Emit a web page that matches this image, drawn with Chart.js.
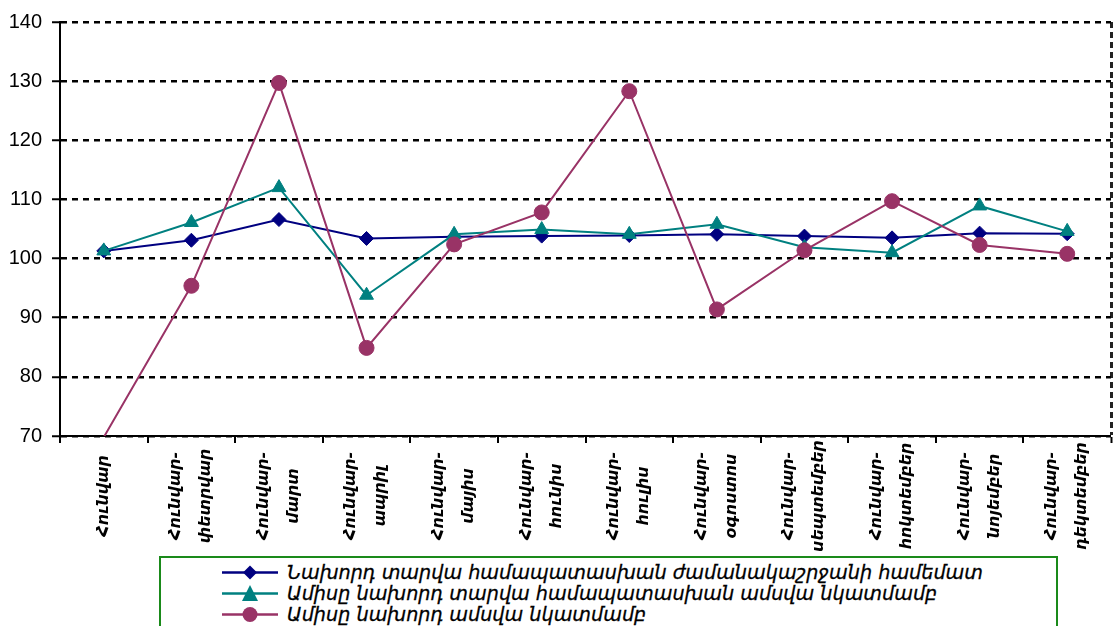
<!DOCTYPE html>
<html><head><meta charset="utf-8">
<script src="https://cdn.jsdelivr.net/npm/chart.js@4"></script>
<style>
html,body{margin:0;padding:0;background:#fff;}
#wrap{position:relative;width:1120px;height:626px;overflow:hidden;background:#fff;}
#c{position:absolute;left:0;top:0;}
#legend{position:absolute;left:159px;top:556px;width:899px;height:90px;border:2px solid #1a8a1a;background:#fff;box-sizing:border-box;}
.row{position:absolute;left:0;height:21px;width:890px;white-space:nowrap;}
.row svg{position:absolute;left:61px;top:0;}
.row span{position:absolute;left:126px;top:-3px;font:italic 20px "DejaVu Sans";line-height:26px;color:#000;transform-origin:left center;-webkit-text-stroke:0.3px #000;}
</style></head>
<body><div id="wrap"><canvas id="c" width="1120" height="626"></canvas><div id="legend"></div></div>
<script>
const categories = ["Հունվար","Հունվար-փետրվար","Հունվար-մարտ","Հունվար-ապրիլ","Հունվար-մայիս","Հունվար-հունիս","Հունվար-հուլիս","Հունվար-օգոստոս","Հունվար-սեպտեմբեր","Հունվար-հոկտեմբեր","Հունվար-նոյեմբեր","Հունվար-դեկտեմբեր"];
const seriesNames = ["Նախորդ տարվա համապատասխան ժամանակաշրջանի համեմատ","Ամիսը նախորդ տարվա համապատասխան ամսվա նկատմամբ","Ամիսը նախորդ ամսվա նկատմամբ"];
const vsPrevYearPeriod = [101.3,103.1,106.6,103.4,103.7,103.8,103.9,104.1,103.8,103.5,104.3,104.2];
const monthVsPrevYearMonth = [101.3,106.1,112.0,93.8,104.1,104.9,104.1,105.8,101.9,101.0,108.9,104.6];
const monthVsPrevMonth = [69.8,95.4,129.7,84.9,102.4,107.8,128.3,91.4,101.4,109.7,102.3,100.8];
const yTicks = [70,80,90,100,110,120,130,140];

const colors = ['#000080','#008080','#993366'];
const styles = ['rectRot','triangle','circle'];

function splitLabel(s){
  const i = s.indexOf('-');
  return i < 0 ? [s] : [s.slice(0,i+1), s.slice(i+1)];
}

const xLabelPlugin = {
  id:'xlabels',
  afterDraw(chart, args, opts){
    const sc = chart.scales.x, ctx = chart.ctx;
    ctx.save();
    ctx.font = opts.font; ctx.fillStyle = opts.color;
    ctx.textAlign = 'center'; ctx.textBaseline = 'middle';
    const refW = ctx.measureText(splitLabel(chart.data.labels[1])[0]).width;
    const stretch = opts.refLength / refW;
    chart.data.labels.forEach((lbl,i)=>{
      const lines = splitLabel(lbl);
      const x = sc.getPixelForTick(i);
      const y = sc.top + opts.centerOffset;
      ctx.save(); ctx.translate(x,y); ctx.rotate(-Math.PI/2); ctx.scale(stretch,1);
      lines.forEach((ln,k)=>ctx.fillText(ln, 0, (k-(lines.length-1)/2)*opts.lineSpacing));
      ctx.restore();
    });
    ctx.restore();
  }
};

const data = [vsPrevYearPeriod, monthVsPrevYearMonth, monthVsPrevMonth];
new Chart(document.getElementById('c'), {
  type:'line',
  data:{
    labels: categories,
    datasets: data.map((d,i)=>({
      label: seriesNames[i], data: d,
      borderColor: colors[i], backgroundColor: colors[i],
      pointBackgroundColor: colors[i], pointBorderColor: colors[i],
      pointStyle: styles[i],
      pointRadius: c => (c.raw < yTicks[0] ? 0 : [7,8,7.5][i]),
      pointHoverRadius: c => (c.raw < yTicks[0] ? 0 : [7,8,7.5][i]),
      pointBorderWidth: 1,
      borderWidth: 2, tension: 0, fill: false,
      order: 3 - i
    }))
  },
  options:{
    responsive:false, animation:false, events:[],
    layout:{padding:{top:22,right:4,left:0,bottom:0}},
    plugins:{
      legend:{display:false}, tooltip:{enabled:false},
      xlabels:{font:'italic bold 15px "DejaVu Sans"', color:'#000', lineSpacing:30, centerOffset:60, refLength:88}
    },
    scales:{
      x:{
        offset:true,
        grid:{offset:true, display:true, drawOnChartArea:true,
          color: c => (c.tick === undefined ? '#222' : 'rgba(0,0,0,0)'),
          lineWidth: c => (c.tick === undefined ? 3 : 0),
          tickColor:'#000', tickLength:7, tickWidth:2, tickBorderDash:[]},
        border:{display:true, color:'#000', width:2, dash:[6,4]},
        ticks:{display:false},
        afterFit(s){ s.height = 190; }
      },
      y:{
        min: yTicks[0], max: yTicks[yTicks.length-1],
        afterBuildTicks(s){ s.ticks = yTicks.map(v=>({value:v})); },
        ticks:{font:{family:'Liberation Sans', size:20}, color:'#000', padding:10},
        grid:{color:'#000', lineWidth:2.5, tickLength:8, tickColor:'#000', tickWidth:2, tickBorderDash:[]},
        border:{display:true, color:'#000', width:2, dash:[6,5]},
        afterFit(s){ s.width = 60; }
      }
    }
  },
  plugins:[xLabelPlugin]
});

// HTML legend
const legend = document.getElementById('legend');
const rowCenters = [14,35,56];
const spans = [];
seriesNames.forEach((name,i)=>{
  const row = document.createElement('div');
  row.className = 'row';
  row.style.top = (rowCenters[i]-10.5)+'px';
  let marker = '';
  const c = colors[i];
  if (i===0) marker = `<polygon points="28,3.5 35,10.5 28,17.5 21,10.5" fill="${c}"/>`;
  if (i===1) marker = `<polygon points="28,2 36,18 20,18" fill="${c}"/>`;
  if (i===2) marker = `<circle cx="28" cy="10.5" r="7.5" fill="${c}"/>`;
  row.innerHTML = `<svg width="56" height="21"><line x1="0" y1="10.5" x2="56" y2="10.5" stroke="${c}" stroke-width="2.5"/>${marker}</svg><span>${name}</span>`;
  legend.appendChild(row);
  spans.push(row.querySelector('span'));
});
const w0 = spans[0].getBoundingClientRect().width;
const sx = 696 / w0;
spans.forEach(s=>{ s.style.transform = `scaleX(${sx})`; });
</script>
</body></html>
